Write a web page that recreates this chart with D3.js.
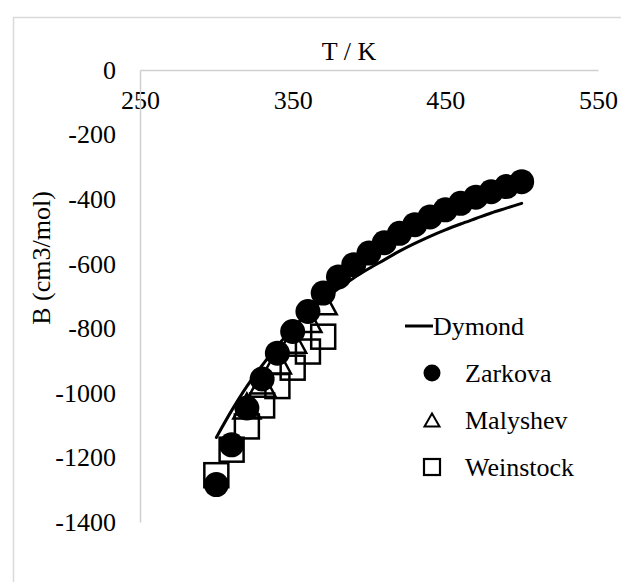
<!DOCTYPE html>
<html>
<head>
<meta charset="utf-8">
<script src="https://cdn.jsdelivr.net/npm/d3@7/dist/d3.min.js"></script>
<style>
  html, body { margin: 0; padding: 0; background: #fff; }
  svg { display: block; }
  svg text { font-family: "Liberation Serif", "Times New Roman", serif !important; fill: #000; }
</style>
</head>
<body>
<svg id="chart" width="621" height="582"></svg>
<script>
// Second virial coefficient B of the gas versus temperature T

// Dymond correlation (smooth curve)
const dymondT = [300, 310, 320, 330, 340, 350, 360, 370, 380, 390, 400, 410, 420, 430, 440, 450, 460, 470, 480, 490, 500];
const dymondB = [-1138, -1055, -980, -915, -855, -800, -752, -713, -677, -644, -615, -588, -561, -537, -515, -495, -477, -460, -443, -428, -413];

// Zarkova data
const zarkovaT = [300, 310, 320, 330, 340, 350, 360, 370, 380, 390, 400, 410, 420, 430, 440, 450, 460, 470, 480, 490, 500];
const zarkovaB = [-1284, -1161, -1047, -957, -877, -810, -748, -691, -641, -603, -567, -535, -506, -479, -455, -433, -413, -394, -377, -361, -346];

// Malyshev data
const malyshevT = [320, 330, 340, 350, 360, 370];
const malyshevB = [-1041, -973, -901, -837, -773, -718];

// Weinstock data
const weinstockT = [300, 310, 320, 330, 340, 350, 360, 370];
const weinstockB = [-1255, -1176, -1104, -1039, -979, -922, -872, -826];

const xTicks = [250, 350, 450, 550];
const yTicks = [0, -200, -400, -600, -800, -1000, -1200, -1400];

const xTitle = "T / K";
const yTitle = "B (cm3/mol)";
const legendNames = ["Dymond", "Zarkova", "Malyshev", "Weinstock"];

const serif = '"Liberation Serif", "Times New Roman", serif';
const svg = d3.select("#chart").style("font-family", serif);
const axisGrey = "#d0d0d0";
const fontPx = 26;
const plainNumber = d => String(d);   // hyphen-minus

// chart frame (extends past the right and bottom edges)
svg.append("rect")
  .attr("x", 13.5).attr("y", 17.5)
  .attr("width", 800).attr("height", 800)
  .attr("fill", "none").attr("stroke", "#d9d9d9").attr("stroke-width", 1.5);

const x = d3.scaleLinear().domain([250, 550]).range([140, 598]);
const y = d3.scaleLinear().domain([0, -1400]).range([70, 522]);

// horizontal axis crosses at B = 0, labels sit below the line
const gx = svg.append("g")
  .attr("transform", `translate(0,${y(0)})`)
  .call(d3.axisBottom(x).tickValues(xTicks).tickSize(0).tickSizeOuter(0).tickPadding(21).tickFormat(plainNumber));
gx.attr("font-family", serif).attr("font-size", fontPx);
gx.select(".domain").attr("stroke", axisGrey).attr("stroke-width", 1.5);
gx.selectAll("text").style("font-family", serif).style("font-size", fontPx + "px");

const gy = svg.append("g")
  .attr("transform", `translate(${x(250)},0)`)
  .call(d3.axisLeft(y).tickValues(yTicks).tickSize(0).tickSizeOuter(0).tickPadding(24).tickFormat(plainNumber));
gy.attr("font-family", serif).attr("font-size", fontPx);
gy.select(".domain").attr("stroke", axisGrey).attr("stroke-width", 1.5);
gy.selectAll("text").style("font-family", serif).style("font-size", fontPx + "px");

// axis titles
svg.append("text")
  .attr("x", 349).attr("y", 60)
  .attr("text-anchor", "middle")
  .style("font-family", serif).style("font-size", fontPx + "px")
  .text(xTitle);

svg.append("text")
  .attr("transform", "translate(50,258) rotate(-90)")
  .attr("text-anchor", "middle")
  .style("font-family", serif).style("font-size", fontPx + "px")
  .text(yTitle);

const plot = svg.append("g");

// Dymond curve
const dymondPts = dymondT.map((t, i) => [t, dymondB[i]]);
plot.append("path")
  .datum(dymondPts)
  .attr("fill", "none")
  .attr("stroke", "#000")
  .attr("stroke-width", 3)
  .attr("stroke-linecap", "round")
  .attr("d", d3.line().x(d => x(d[0])).y(d => y(d[1])).curve(d3.curveMonotoneX));

// Weinstock squares
const sq = 24;
plot.selectAll("rect.weinstock")
  .data(weinstockT.map((t, i) => [t, weinstockB[i]]))
  .join("rect")
  .attr("class", "weinstock")
  .attr("x", d => x(d[0]) - sq / 2)
  .attr("y", d => y(d[1]) - sq / 2)
  .attr("width", sq).attr("height", sq)
  .attr("fill", "none").attr("stroke", "#000").attr("stroke-width", 2.5);

// Malyshev triangles
const triW = 30, triH = 28;
const triPath = (w, h) => `M0,${-h / 2}L${w / 2},${h / 2}L${-w / 2},${h / 2}Z`;
plot.selectAll("path.malyshev")
  .data(malyshevT.map((t, i) => [t, malyshevB[i]]))
  .join("path")
  .attr("class", "malyshev")
  .attr("transform", d => `translate(${x(d[0])},${y(d[1])})`)
  .attr("d", triPath(triW - 3, triH - 3))
  .attr("fill", "none").attr("stroke", "#000").attr("stroke-width", 2.5)
  .attr("stroke-linejoin", "miter");

// Zarkova filled circles
plot.selectAll("circle.zarkova")
  .data(zarkovaT.map((t, i) => [t, zarkovaB[i]]))
  .join("circle")
  .attr("class", "zarkova")
  .attr("cx", d => x(d[0]))
  .attr("cy", d => y(d[1]))
  .attr("r", 12.5)
  .attr("fill", "#000");

// legend
const legend = svg.append("g");
const rowsY = [326, 373, 420, 467];
const markX = 432, textX = 465;

legend.append("line")
  .attr("x1", 405).attr("x2", 433)
  .attr("y1", rowsY[0]).attr("y2", rowsY[0])
  .attr("stroke", "#000").attr("stroke-width", 3);
legend.append("circle")
  .attr("cx", markX).attr("cy", rowsY[1]).attr("r", 8.5).attr("fill", "#000");
legend.append("path")
  .attr("transform", `translate(${markX},${rowsY[2]})`)
  .attr("d", triPath(15, 13))
  .attr("fill", "none").attr("stroke", "#000").attr("stroke-width", 2);
legend.append("rect")
  .attr("x", markX - 8).attr("y", rowsY[3] - 8)
  .attr("width", 16).attr("height", 16)
  .attr("fill", "none").attr("stroke", "#000").attr("stroke-width", 2.2);

legend.selectAll("text")
  .data(legendNames)
  .join("text")
  .attr("x", (d, i) => i === 0 ? 433 : textX)
  .attr("y", (d, i) => rowsY[i])
  .attr("dy", "0.33em")
  .style("font-family", serif).style("font-size", fontPx + "px")
  .text(d => d);
</script>
</body>
</html>
